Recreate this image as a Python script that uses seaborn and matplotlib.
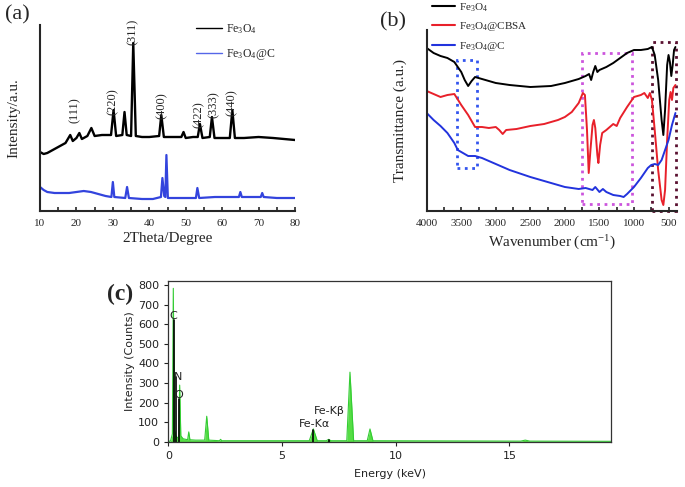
import numpy as np
import pandas as pd
import matplotlib
matplotlib.use("Agg")
import matplotlib.pyplot as plt
import seaborn as sns
from matplotlib.patches import Rectangle
from matplotlib.lines import Line2D

# ----- (a) XRD data -----
xrd_theta_fe = [10, 11, 12, 13, 15, 17, 18.3, 19, 20, 20.8, 21.5, 23, 24.1, 25, 27, 29.5, 30.2, 30.9,
                32.6, 33.2, 33.8, 35.0, 35.6, 36.3, 38, 40, 42.7, 43.3, 44.0, 46, 48.8, 49.4, 50.0,
                52, 53.3, 53.9, 54.6, 56.6, 57.2, 57.9, 60, 62.1, 62.8, 63.5, 66, 70, 74, 77, 80]
xrd_int_fe = [59, 57, 58, 60, 64, 68, 76, 70, 73, 78, 72, 75, 83, 75, 76, 76, 101, 75,
              76, 99, 76, 75, 168, 75, 74, 74, 75, 96, 74, 74, 74, 79, 73,
              74, 74, 87, 73, 74, 94, 73, 73, 73, 101, 73, 73, 74, 73, 72, 71]
xrd_theta_c = [10, 11, 12, 14, 16, 18, 20, 22, 24, 26, 28, 29.6, 30.0, 30.4, 33.4, 33.9, 34.4, 38,
               41, 43.2, 43.6, 44.1, 44.4, 44.7, 45.1, 48, 52.8, 53.2, 53.7, 58, 64.6, 65.0, 65.4,
               70.6, 71.0, 71.4, 75, 80]
xrd_int_c = [24, 21, 19, 18, 18, 18, 19, 20, 19, 17, 15, 14, 29, 14, 13, 24, 13, 12,
             12, 14, 33, 15, 14, 56, 13, 13, 13, 23, 13, 14, 14, 19, 14,
             14, 18, 14, 13, 13]
hkl_labels = ["(111)", "(220)", "(311)", "(400)", "(422)", "(333)", "(440)"]
hkl_theta = [19.6, 30.1, 35.6, 43.4, 53.7, 57.8, 62.6]
hkl_y = [101, 109, 179, 105, 96, 106, 108]

# ----- (b) FTIR data -----
wn_fe = [4000, 3900, 3800, 3700, 3600, 3500, 3450, 3400, 3350, 3300, 3200, 3000, 2800, 2500, 2200,
         2000, 1800, 1700, 1650, 1620, 1590, 1560, 1530, 1500, 1400, 1300, 1200, 1100, 1000, 900,
         800, 740, 700, 650, 600, 575, 550, 520, 500, 480, 460, 440, 420, 400]
tr_fe = [163, 158, 155, 153, 149, 139, 131, 125, 130, 134, 132, 128, 126, 124, 125,
         128, 132, 135, 137, 131, 139, 145, 139, 141, 144, 148, 153, 158, 161, 161,
         162, 164, 156, 131, 91, 76, 101, 146, 156, 149, 135, 146, 161, 164]
wn_cbsa = [4000, 3900, 3800, 3700, 3600, 3500, 3400, 3300, 3200, 3100, 3000, 2950, 2900, 2850, 2700,
           2500, 2300, 2100, 2000, 1900, 1800, 1740, 1710, 1680, 1655, 1630, 1600, 1580, 1560, 1530,
           1515, 1490, 1460, 1400, 1350, 1300, 1250, 1200, 1100, 1000, 900, 850, 800, 770, 740,
           700, 650, 600, 575, 550, 520, 490, 470, 450, 430, 400]
tr_cbsa = [120, 117, 114, 116, 117, 106, 96, 84, 84, 83, 84, 81, 77, 81, 82,
           85, 87, 91, 94, 99, 108, 118, 116, 81, 38, 61, 86, 91, 83, 56,
           48, 66, 78, 81, 84, 87, 85, 93, 104, 114, 116, 118, 113, 118, 111,
           81, 41, 11, 6, 21, 71, 111, 119, 111, 123, 126]
wn_c = [4000, 3900, 3800, 3700, 3600, 3550, 3500, 3400, 3300, 3200, 3000, 2800, 2500, 2200, 2000,
        1800, 1700, 1600, 1560, 1500, 1450, 1400, 1300, 1200, 1150, 1100, 1000, 900, 800, 750,
        700, 650, 600, 550, 500, 450, 400]
tr_c = [98, 91, 85, 78, 68, 61, 59, 55, 55, 53, 47, 41, 34, 28, 24,
        22, 23, 21, 24, 19, 22, 19, 16, 15, 14, 17, 24, 33, 43, 46,
        47, 46, 51, 61, 71, 86, 98]

# ----- (c) EDS data -----
eds_kev = [0.0, 0.1, 0.18, 0.22, 0.27, 0.33, 0.4, 0.46, 0.5, 0.55, 0.65, 0.85, 0.9, 0.95, 1.2, 1.6,
           1.69, 1.78, 2.25, 2.3, 2.35, 6.2, 6.38, 6.55, 6.95, 7.05, 7.15, 7.85, 7.99, 8.15, 8.75,
           8.87, 9.0, 15.5, 15.7, 15.9, 19.5]
eds_counts = [0, 5, 40, 783, 60, 30, 20, 25, 289, 30, 15, 10, 50, 10, 8, 8,
              130, 8, 5, 12, 5, 5, 65, 5, 5, 12, 5, 5, 355, 5, 5,
              65, 5, 3, 8, 3, 2]
elem_labels = ["C", "N", "O", "Fe-Kα", "Fe-Kβ"]
elem_kev = [0.23, 0.36, 0.49, 6.38, 7.05]
elem_height = [620, 330, 220, 60, 10]
elem_text_x = [0.22, 0.44, 0.47, 6.41, 7.08]
elem_text_y = [642, 332, 238, 90, 157]

W, H = 685, 487


def px_axes(fig, left, top, right, bottom):
    return fig.add_axes([left / W, (H - bottom) / H, (right - left) / W, (bottom - top) / H])


sns.set_style("ticks")
plt.rcParams["font.family"] = ["Liberation Serif", "DejaVu Serif"]
plt.rcParams["mathtext.fontset"] = "stix"

fig = plt.figure(figsize=(6.85, 4.87), dpi=100)

# ----- (a) -----
ax_a = px_axes(fig, 40, 25, 295, 211)
sns.lineplot(x=xrd_theta_fe, y=xrd_int_fe, ax=ax_a, color="black", linewidth=1.7, estimator=None)
sns.lineplot(x=xrd_theta_c, y=xrd_int_c, ax=ax_a, color="#3344dd", linewidth=1.6, estimator=None)
ax_a.set_xlim(10, 80)
ax_a.set_ylim(0, 186)
ax_a.set_xticks(range(10, 81, 10))
ax_a.set_xticks(range(15, 80, 10), minor=True)
ax_a.set_yticks([])
ax_a.tick_params(axis="x", which="both", direction="in", length=3, width=1.2, labelsize=8, pad=6)
for s in ["top", "right"]:
    ax_a.spines[s].set_visible(False)
for s in ["left", "bottom"]:
    ax_a.spines[s].set_linewidth(1.5)
ax_a.set_xlabel("2Theta/Degree", fontsize=11, labelpad=3)
ax_a.set_ylabel("Intensity/a.u.", fontsize=11, labelpad=14)
for lab, tx, ty in zip(hkl_labels, hkl_theta, hkl_y):
    ax_a.text(tx, ty, lab, rotation=90, ha="center", va="center", fontsize=9)
handles_a = [Line2D([], [], color="black", lw=1), Line2D([], [], color="#5566e8", lw=1)]
fig.legend(handles_a, [r"$\mathregular{Fe_3O_4}$", r"$\mathregular{Fe_3O_4@C}$"],
           loc="upper left", bbox_to_anchor=(196 / W, 1 - 22 / H), frameon=False, fontsize=8.5,
           handlelength=2.2, handletextpad=0.35, labelspacing=0.95, borderpad=0, borderaxespad=0)
fig.text(5 / W, 1 - 15 / H, "(a)", fontsize=16, va="center", ha="left")

# ----- (b) -----
ax_b = px_axes(fig, 426.7, 30, 677.3, 211)
sns.lineplot(x=wn_fe, y=tr_fe, ax=ax_b, color="black", linewidth=1.4, estimator=None, sort=False)
sns.lineplot(x=wn_cbsa, y=tr_cbsa, ax=ax_b, color="#e8202a", linewidth=1.4, estimator=None, sort=False)
sns.lineplot(x=wn_c, y=tr_c, ax=ax_b, color="#2233dd", linewidth=1.4, estimator=None, sort=False)
ax_b.set_xlim(4000, 373)
ax_b.set_ylim(0, 181)
ax_b.set_xticks(range(4000, 499, -500))
ax_b.set_xticks(range(3750, 499, -500), minor=True)
ax_b.set_yticks([])
ax_b.tick_params(axis="x", which="both", direction="in", length=3, width=1.2, labelsize=8, pad=6)
for s in ["top", "right"]:
    ax_b.spines[s].set_visible(False)
for s in ["left", "bottom"]:
    ax_b.spines[s].set_linewidth(1.5)
ax_b.set_xlabel(r"Wavenumber (cm$^{\mathregular{-1}}$)", fontsize=11, labelpad=3)
ax_b.set_ylabel("Transmittance (a.u.)", fontsize=11, labelpad=14)
ax_b.add_patch(Rectangle((3557, 43), 3275 - 3557, 108, fill=False, ls=":", lw=2, ec="#3355ee"))
ax_b.add_patch(Rectangle((1754, 7), 1029 - 1754, 151, fill=False, ls=":", lw=2, ec="#cc55dd"))
ax_b.add_patch(Rectangle((740, 0.5), 385 - 740, 168.5, fill=False, ls=":", lw=2, ec="#5a1030",
                         clip_on=False))
handles_b = [Line2D([], [], color="black", lw=1.5), Line2D([], [], color="#e8202a", lw=1.5),
             Line2D([], [], color="#2233dd", lw=1.5)]
fig.legend(handles_b, [r"$\mathregular{Fe_3O_4}$", r"$\mathregular{Fe_3O_4@CBSA}$",
                       r"$\mathregular{Fe_3O_4@C}$"],
           loc="upper left", bbox_to_anchor=(432 / W, 1 - 1 / H), frameon=False, fontsize=8,
           handlelength=2.1, handletextpad=0.3, labelspacing=0.6, borderpad=0, borderaxespad=0)
fig.text(380 / W, 1 - 22 / H, "(b)", fontsize=16, va="center", ha="left")

# ----- (c) -----
ax_c = px_axes(fig, 168.3, 280.7, 611, 441.7)
ax_c.fill_between(eds_kev, eds_counts, color="#55dd44", lw=0)
sns.lineplot(x=eds_kev, y=eds_counts, ax=ax_c, color="#33cc33", linewidth=0.8, estimator=None)
for ek, eh in zip(elem_kev, elem_height):
    ax_c.plot([ek, ek], [0, eh], color="black", lw=1.2)
for lab, tx, ty in zip(elem_labels, elem_text_x, elem_text_y):
    ax_c.text(tx, ty, lab, ha="center", va="center", fontsize=8, family="DejaVu Sans", color="#222222")
ax_c.set_xlim(0, 19.47)
ax_c.set_ylim(0, 822)
ax_c.set_xticks([0, 5, 10, 15])
ax_c.set_yticks(range(0, 801, 100))
ax_c.tick_params(axis="both", direction="out", length=3, width=0.8, labelsize=8, colors="#222222")
for lab in ax_c.get_xticklabels() + ax_c.get_yticklabels():
    lab.set_family("DejaVu Sans")
for s in ax_c.spines.values():
    s.set_linewidth(0.9)
    s.set_color("#333333")
ax_c.set_xlabel("Energy (keV)", fontsize=8, family="DejaVu Sans", color="#222222", labelpad=6)
ax_c.set_ylabel("Intensity (Counts)", fontsize=8, family="DejaVu Sans", color="#222222", labelpad=2)
fig.text(107 / W, 1 - 294 / H, "(c)", fontsize=17, fontweight="bold", va="center", ha="left")

fig.savefig("out.png", dpi=100)
